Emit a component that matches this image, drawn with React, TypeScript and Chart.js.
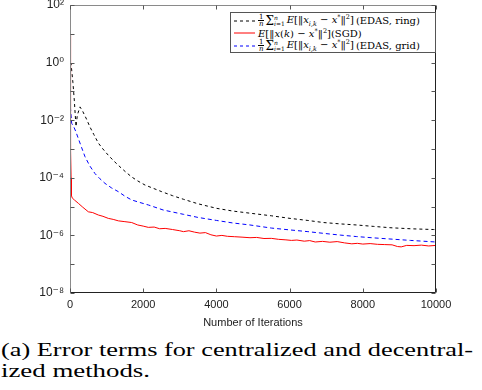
import React, { useEffect, useRef } from "react";
import { Chart, registerables } from "chart.js";

Chart.register(...registerables);

// ---------- data ----------
const xTicks = [0, 2000, 4000, 6000, 8000, 10000];
const yTickExponents = [-8, -6, -4, -2, 0, 2];
const yTickLabels = ["10⁻⁸", "10⁻⁶", "10⁻⁴", "10⁻²", "10⁰", "10²"];
const xAxisTitle = "Number of Iterations";
const captionLines = ["(a) Error terms for centralized and decentral-", "ized methods."];
const seriesNames = ["EDAS, ring", "SGD", "EDAS, grid"];

const ringIters = [0, 30, 80, 117, 164, 200, 273, 350, 450, 546, 650, 775, 900, 1040, 1200, 1366, 1520, 1685, 1850, 2050, 2277, 2505, 2800, 3097, 3500, 4007, 4450, 4918, 5500, 6011, 6500, 6922, 7400, 7833, 8300, 8743, 9300, 9927, 10000];
const ringValues = [1.0, 0.9, 0.2, 0.05, 0.006, 0.015, 0.029, 0.02, 0.011, 5.8e-3, 3.2e-3, 1.6e-3, 1.0e-3, 6.2e-4, 3.8e-4, 2.4e-4, 1.6e-4, 1.07e-4, 7.8e-5, 5.6e-5, 4.3e-5, 3.3e-5, 2.4e-5, 1.8e-5, 1.25e-5, 8.7e-6, 7.0e-6, 5.9e-6, 4.8e-6, 3.9e-6, 3.3e-6, 2.8e-6, 2.5e-6, 2.3e-6, 2.05e-6, 1.85e-6, 1.7e-6, 1.6e-6, 1.6e-6];

const gridIters = [0, 20, 46, 100, 160, 228, 320, 410, 540, 683, 820, 956, 1130, 1321, 1500, 1685, 1900, 2140, 2550, 3097, 3500, 4007, 4450, 4918, 5500, 6011, 6500, 6922, 7400, 7833, 8300, 8743, 9300, 10000];
const gridValues = [0.05, 0.02, 7.8e-3, 6e-3, 4e-3, 2.3e-3, 1.1e-3, 5.4e-4, 2.6e-4, 1.4e-4, 9.2e-5, 6.4e-5, 4.5e-5, 3.3e-5, 2.3e-5, 1.7e-5, 1.4e-5, 1.14e-5, 7.6e-6, 5.4e-6, 4.2e-6, 3.3e-6, 2.7e-6, 2.3e-6, 1.8e-6, 1.55e-6, 1.35e-6, 1.18e-6, 1.02e-6, 9.1e-7, 8.2e-7, 7.5e-7, 6.7e-7, 5.9e-7];

const sgdIters = [0, 8, 15, 22, 30, 40, 60, 120, 228, 350, 501, 620, 775, 900, 1047, 1180, 1321, 1500, 1685, 1850, 2000, 2140, 2300, 2450, 2600, 2800, 3000, 3100, 3250, 3400, 3550, 3700, 3850, 4000, 4150, 4300, 4500, 4700, 4918, 5100, 5300, 5500, 5700, 5900, 6050, 6200, 6400, 6550, 6700, 6900, 7100, 7300, 7500, 7700, 7850, 8000, 8200, 8400, 8600, 8800, 8950, 9050, 9200, 9400, 9600, 9800, 10000];
const sgdValues = [9, 2, 0.05, 1e-3, 1e-4, 2.4e-5, 2.0e-5, 1.7e-5, 1.3e-5, 9.5e-6, 6.6e-6, 6.2e-6, 5.1e-6, 4.6e-6, 3.9e-6, 3.6e-6, 3.2e-6, 3.0e-6, 2.8e-6, 2.3e-6, 2.1e-6, 1.9e-6, 1.95e-6, 1.7e-6, 1.75e-6, 1.6e-6, 1.45e-6, 1.35e-6, 1.45e-6, 1.3e-6, 1.2e-6, 1.25e-6, 1.05e-6, 9.5e-7, 1.0e-6, 9.3e-7, 9.0e-7, 8.7e-7, 8.3e-7, 8.5e-7, 7.8e-7, 7.9e-7, 7.3e-7, 7.0e-7, 6.7e-7, 6.9e-7, 6.3e-7, 6.6e-7, 5.9e-7, 6.2e-7, 5.8e-7, 6.1e-7, 5.5e-7, 5.1e-7, 5.3e-7, 5.0e-7, 5.2e-7, 4.9e-7, 4.8e-7, 4.7e-7, 4.1e-7, 4.0e-7, 4.5e-7, 4.4e-7, 4.6e-7, 4.3e-7, 4.5e-7];

const toPoints = (xs: number[], ys: number[]) => xs.map((x, i) => ({ x, y: ys[i] }));

// ---------- plugin: box + inward ticks ----------
const boxTicksPlugin = {
  id: "boxTicks",
  afterDatasetsDraw(chart: any) {
    const { ctx, chartArea: a, scales } = chart;
    const xs = scales.x;
    const ys = scales.y;
    const L = Math.round(a.left) + 0.5;
    const R = Math.round(a.right) - 0.5;
    const T = Math.round(a.top) + 0.5;
    const B = Math.round(a.bottom) - 0.5;
    ctx.save();
    ctx.lineWidth = 1;
    ctx.strokeStyle = "#8a8a8a";
    ctx.beginPath();
    ctx.moveTo(L, B);
    ctx.lineTo(L, T);
    ctx.lineTo(R, T);
    ctx.stroke();
    ctx.strokeStyle = "#222";
    ctx.beginPath();
    ctx.moveTo(R, T);
    ctx.lineTo(R, B);
    ctx.lineTo(L, B);
    ctx.stroke();
    ctx.strokeStyle = "#555";
    ctx.beginPath();
    for (const v of xTicks) {
      const px = Math.round(xs.getPixelForValue(v)) + 0.5;
      ctx.moveTo(px, B);
      ctx.lineTo(px, B - 4);
      ctx.moveTo(px, T);
      ctx.lineTo(px, T + 4);
    }
    const lo = yTickExponents[0];
    const hi = yTickExponents[yTickExponents.length - 1];
    for (let e = lo; e <= hi; e++) {
      const py = Math.round(ys.getPixelForValue(Math.pow(10, e))) + 0.5;
      ctx.moveTo(L, py);
      ctx.lineTo(L + 4, py);
      ctx.moveTo(R, py);
      ctx.lineTo(R - 4, py);
    }
    ctx.stroke();
    ctx.restore();
  },
};

// ---------- legend pieces ----------
const serif = "'DejaVu Serif', 'Liberation Serif', serif";

const Frac = () => (
  <span
    style={{
      display: "inline-flex",
      flexDirection: "column",
      alignItems: "center",
      fontSize: 7,
      lineHeight: "6.5px",
      verticalAlign: "middle",
      margin: "0 1px 0 0",
    }}
  >
    <span style={{ borderBottom: "0.7px solid #000", padding: "0 1px" }}>1</span>
    <span style={{ fontStyle: "italic" }}>n</span>
  </span>
);

const Sum = () => (
  <span style={{ display: "inline-flex", alignItems: "center" }}>
    <span style={{ fontSize: 12 }}>Σ</span>
    <span
      style={{
        display: "inline-flex",
        flexDirection: "column",
        fontSize: 6,
        lineHeight: "6px",
        marginRight: 2,
      }}
    >
      <span style={{ fontStyle: "italic" }}>n</span>
      <span>
        <i>i</i>=1
      </span>
    </span>
  </span>
);

const Bars = () => <span style={{ letterSpacing: -1.5, marginRight: 1.5 }}>||</span>;

const NormTerm = ({ inner }: { inner: React.ReactNode }) => (
  <span>
    <i>E</i>[<Bars />{inner} − <i>x</i>
    <sup style={{ fontSize: 6.5 }}>*</sup><Bars /><sup style={{ fontSize: 6.5 }}>2</sup>]
  </span>
);

const Sample = ({ color, dash }: { color: string; dash: string }) => (
  <svg width={21} height={6} style={{ marginRight: 3, flex: "none" }}>
    <line x1={0} y1={3} x2={21} y2={3} stroke={color} strokeWidth={1} strokeDasharray={dash} />
  </svg>
);

const Legend = () => (
  <div
    style={{
      position: "absolute",
      left: 230,
      top: 12,
      width: 206,
      height: 41,
      background: "#fff",
      border: "1px solid #555",
      fontFamily: serif,
      fontSize: 10,
      color: "#000",
      padding: "1px 0 0 3px",
      boxSizing: "border-box",
      whiteSpace: "nowrap",
      overflow: "hidden",
    }}
  >
    <div style={{ display: "flex", alignItems: "center", height: 13 }}>
      <Sample color="#000" dash="3,3" />
      <Frac />
      <Sum />
      <NormTerm inner={<span><i>x</i><sub style={{ fontSize: 6.5 }}><i>i,k</i></sub></span>} />
      <span style={{ marginLeft: 2 }}>({seriesNames[0]})</span>
    </div>
    <div style={{ display: "flex", alignItems: "center", height: 12 }}>
      <Sample color="#ff0000" dash="" />
      <NormTerm inner={<span><i>x</i>(<i>k</i>)</span>} />
      <span>({seriesNames[1]})</span>
    </div>
    <div style={{ display: "flex", alignItems: "center", height: 13 }}>
      <Sample color="#0000ff" dash="3,3" />
      <Frac />
      <Sum />
      <NormTerm inner={<span><i>x</i><sub style={{ fontSize: 6.5 }}><i>i,k</i></sub></span>} />
      <span style={{ marginLeft: 2 }}>({seriesNames[2]})</span>
    </div>
  </div>
);

export default function App() {
  const canvasRef = useRef<HTMLCanvasElement | null>(null);

  useEffect(() => {
    if (!canvasRef.current) return;
    const chart = new Chart(canvasRef.current, {
      type: "line",
      data: {
        datasets: [
          {
            label: "1/n Σ E[‖x_{i,k} − x*‖²] (" + seriesNames[0] + ")",
            data: toPoints(ringIters, ringValues),
            borderColor: "#000000",
            borderWidth: 1,
            borderDash: [3, 3],
            pointRadius: 0,
            tension: 0,
            order: 2,
          },
          {
            label: "E[‖x(k) − x*‖²] (" + seriesNames[1] + ")",
            data: toPoints(sgdIters, sgdValues),
            borderColor: "#ff0000",
            borderWidth: 1,
            pointRadius: 0,
            tension: 0,
            order: 0,
          },
          {
            label: "1/n Σ E[‖x_{i,k} − x*‖²] (" + seriesNames[2] + ")",
            data: toPoints(gridIters, gridValues),
            borderColor: "#0000ff",
            borderWidth: 1,
            borderDash: [4, 3],
            pointRadius: 0,
            tension: 0,
            order: 1,
          },
        ],
      },
      options: {
        responsive: false,
        animation: false,
        devicePixelRatio: 1,
        layout: { padding: { top: 5, right: 46, left: 0, bottom: 0 } },
        plugins: {
          legend: { display: false },
          tooltip: { enabled: false },
          title: { display: false },
        },
        scales: {
          x: {
            type: "linear",
            min: 0,
            max: 10000,
            grid: { display: false, drawTicks: false },
            border: { display: false },
            afterBuildTicks: (scale: any) => {
              scale.ticks = xTicks.map((v) => ({ value: v }));
            },
            ticks: {
              padding: 5,
              color: "#222",
              font: { family: "'Liberation Sans', Arial, sans-serif", size: 11 },
              callback: (v: any) => String(v),
              maxRotation: 0,
            },
            title: {
              display: true,
              text: xAxisTitle,
              color: "#222",
              font: { family: "'Liberation Sans', Arial, sans-serif", size: 11 },
              padding: { top: 1, bottom: 0 },
            },
            afterFit: (scale: any) => {
              scale.height = 37;
              scale.paddingLeft = 0;
              scale.paddingRight = 0;
            },
          },
          y: {
            type: "logarithmic",
            min: 1e-8,
            max: 1e2,
            grid: { display: false, drawTicks: false },
            border: { display: false },
            afterBuildTicks: (scale: any) => {
              scale.ticks = yTickExponents.map((e) => ({ value: Math.pow(10, e) }));
            },
            ticks: {
              padding: 6,
              color: "#222",
              font: { family: "'Liberation Sans', 'DejaVu Sans', Arial, sans-serif", size: 12 },
              callback: (v: any) => {
                const e = Math.round(Math.log10(Number(v)));
                const i = yTickExponents.indexOf(e);
                return i >= 0 ? yTickLabels[i] : "";
              },
            },
            afterFit: (scale: any) => {
              scale.width = 70;
              scale.paddingTop = 0;
              scale.paddingBottom = 0;
            },
          },
        },
      },
      plugins: [boxTicksPlugin],
    });
    return () => chart.destroy();
  }, []);

  return (
    <div style={{ position: "absolute", left: 0, top: 0, width: 482, height: 390, background: "#fff", overflow: "hidden" }}>
      <canvas ref={canvasRef} width={482} height={330} style={{ position: "absolute", left: 0, top: 0, width: 482, height: 330 }} />
      <Legend />
      <svg width={482} height={60} style={{ position: "absolute", left: 0, top: 330 }}>
        <text x={1} y={26} fontFamily="'Liberation Serif', serif" fontSize={19.5} fill="#000" textLength={472} lengthAdjust="spacingAndGlyphs">
          {captionLines[0]}
        </text>
        <text x={1} y={46.5} fontFamily="'Liberation Serif', serif" fontSize={19.5} fill="#000" textLength={149} lengthAdjust="spacingAndGlyphs">
          {captionLines[1]}
        </text>
      </svg>
    </div>
  );
}
